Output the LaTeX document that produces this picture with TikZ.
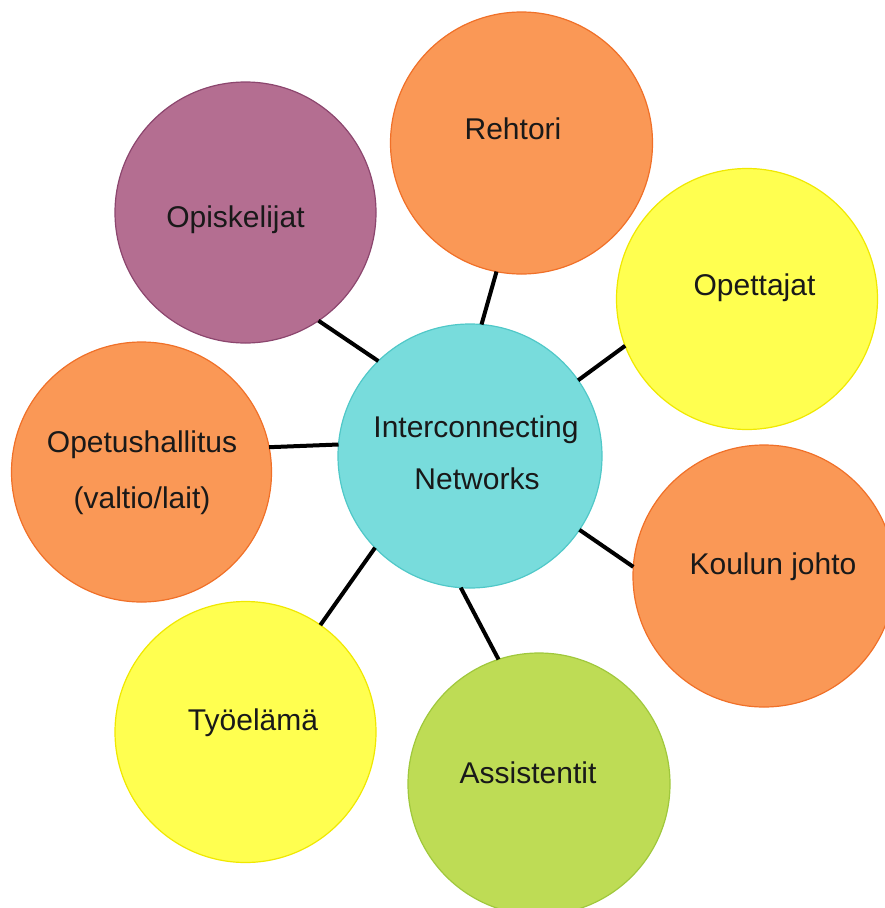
\documentclass[tikz,border=0pt]{standalone}
\usepackage{fontspec}
\setmainfont{Liberation Sans}
\begin{document}
\begin{tikzpicture}[x=1pt,y=-1pt,
  bubble/.style={circle,draw,line width=1.2pt,minimum size=261pt,inner sep=0pt,outer sep=0pt},
  lbl/.style={anchor=base,inner sep=0pt,font=\fontsize{30}{36}\selectfont,text=black!90},
  conn/.style={line width=4pt,black}]
\definecolor{orfill}{RGB}{250,152,86}
\definecolor{ordraw}{RGB}{240,112,40}
\definecolor{pufill}{RGB}{180,110,145}
\definecolor{pudraw}{RGB}{140,70,110}
\definecolor{yefill}{RGB}{255,255,80}
\definecolor{yedraw}{RGB}{240,232,0}
\definecolor{grfill}{RGB}{190,220,85}
\definecolor{grdraw}{RGB}{160,200,60}
\definecolor{cyfill}{RGB}{120,220,220}
\definecolor{cydraw}{RGB}{80,200,200}
\useasboundingbox (0,0) rectangle (885,908);
\node[bubble,fill=cyfill,draw=cydraw,minimum size=264pt] (c) at (470,456) {};
\node[bubble,fill=orfill,draw=ordraw,minimum size=262pt] (reh) at (521.5,143) {};
\node[bubble,fill=pufill,draw=pudraw] (opi) at (245.5,212.5) {};
\node[bubble,fill=yefill,draw=yedraw] (ope) at (747,299) {};
\node[bubble,fill=orfill,draw=ordraw,minimum size=260pt] (oph) at (141.5,472) {};
\node[bubble,fill=orfill,draw=ordraw,minimum size=262pt] (kou) at (764,576) {};
\node[bubble,fill=grfill,draw=grdraw,minimum size=262pt] (ass) at (539,784) {};
\node[bubble,fill=yefill,draw=yedraw] (tyo) at (245.5,732) {};
% labels
\node[lbl] (c1) at (476,437) {Interconnecting};
\node[lbl] (c2) at (477,489) {Networks};
\node[lbl] (rehl) at (513,139) {Rehtori};
\node[lbl] (opil) at (235.5,227) {Opiskelijat};
\node[lbl] (opel) at (754.5,295) {Opettajat};
\node[lbl] (oph1) at (142,452) {Opetushallitus};
\node[lbl] (oph2) at (142,508) {(valtio/lait)};
\node[lbl] (koul) at (773,574) {Koulun johto};
\node[lbl] (assl) at (528,783) {Assistentit};
\node[lbl] (tyol) at (253,730) {Työelämä};
% connectors
\draw[conn] (c.85.6) -- (reh.259.2);
\draw[conn] (c.134.7) -- (opi.304.6);
\draw[conn] (c.35.6) -- (ope.201.3);
\draw[conn] (c.175.6) -- (oph.11.3);
\draw[conn] (c.-34.3) -- (kou.176);
\draw[conn] (c.266.5) -- (ass.108.2);
\draw[conn] (c.224.7) -- (tyo.55.3);
\end{tikzpicture}
\end{document}
